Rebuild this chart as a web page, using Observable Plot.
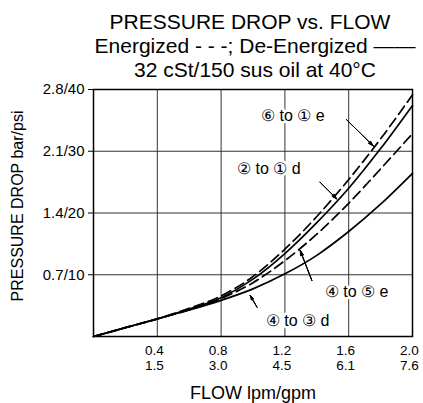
<!DOCTYPE html>
<html><head><meta charset="utf-8">
<script src="https://cdn.jsdelivr.net/npm/d3@7"></script>
<script src="https://cdn.jsdelivr.net/npm/@observablehq/plot@0.6"></script>
<style>body{margin:0;background:#fff}</style>
</head><body><div id="chart"></div>
<script>
const flow = [0, 0.2, 0.4, 0.6, 0.8, 1.0, 1.2, 1.4, 1.6, 1.8, 2.0];
const p61e = [0, 0.10, 0.20, 0.32, 0.46, 0.68, 0.99, 1.36, 1.78, 2.24, 2.74];
const p21d = [0, 0.10, 0.20, 0.31, 0.44, 0.65, 0.94, 1.29, 1.68, 2.13, 2.62];
const p45e = [0, 0.10, 0.20, 0.30, 0.43, 0.61, 0.86, 1.16, 1.51, 1.90, 2.30];
const p43d = [0, 0.10, 0.20, 0.30, 0.41, 0.54, 0.71, 0.92, 1.19, 1.50, 1.85];

const xTicks = [0.4, 0.8, 1.2, 1.6, 2.0];
const xLabelsLpm = ["0.4", "0.8", "1.2", "1.6", "2.0"];
const xLabelsGpm = ["1.5", "3.0", "4.5", "6.1", "7.6"];
const yTicks = [0.7, 1.4, 2.1, 2.8];
const yLabels = ["0.7/10", "1.4/20", "2.1/30", "2.8/40"];

const seriesNames = ["⑥ to ① e", "② to ① d", "④ to ⑤ e", "④ to ③ d"];
const seriesDashed = [true, false, true, false];
const seriesValues = [p61e, p21d, p45e, p43d];

const labelX = [1.25, 1.10, 1.65, 1.28];
const labelY = [2.50, 1.90, 0.51, 0.18];
const arrowX1 = [1.587, 1.42, 1.369, 1.025];
const arrowY1 = [2.457, 1.75, 0.635, 0.332];
const arrowX2 = [1.754, 1.525, 1.296, 0.983];
const arrowY2 = [2.16, 1.56, 0.975, 0.465];

const titleLines = ["PRESSURE DROP vs. FLOW", "Energized - - -; De-Energized ——", "32 cSt/150 sus oil at 40°C"];
const yTitle = "PRESSURE DROP bar/psi";
const xTitle = "FLOW lpm/gpm";

const rows = [];
seriesNames.forEach((name, s) => flow.forEach((f, i) => rows.push({series: name, dashed: seriesDashed[s], flow: f, drop: seriesValues[s][i]})));
const labels = seriesNames.map((name, i) => ({text: name, x: labelX[i], y: labelY[i]}));
const arrows = seriesNames.map((name, i) => ({x1: arrowX1[i], y1: arrowY1[i], x2: arrowX2[i], y2: arrowY2[i]}));

const font = "'Liberation Sans', Arial, Helvetica, sans-serif";
const arrowOpts = {x1: "x1", y1: "y1", x2: "x2", y2: "y2", stroke: "#000", strokeWidth: 1, headLength: 8};

const chart = Plot.plot({
  width: 423,
  height: 403,
  marginLeft: 93,
  marginRight: 11,
  marginTop: 89,
  marginBottom: 67,
  style: {fontFamily: font, background: "#fff", color: "#000"},
  x: {domain: [0, 2.0]},
  y: {domain: [0, 2.8]},
  marks: [
    Plot.gridX(xTicks, {stroke: "#333", strokeOpacity: 1, strokeWidth: 1}),
    Plot.gridY(yTicks, {stroke: "#333", strokeOpacity: 1, strokeWidth: 1}),
    Plot.axisY({ticks: yTicks, tickFormat: (d, i) => yLabels[i], tickSize: 5, tickPadding: 4, fontSize: 15, label: null}),
    Plot.axisX({ticks: xTicks, tickFormat: (d, i) => xLabelsLpm[i], tickSize: 0, tickPadding: 9, fontSize: 13.5, dx: -3, label: null}),
    Plot.axisX({ticks: xTicks, tickFormat: (d, i) => xLabelsGpm[i], tickSize: 0, tickPadding: 24, fontSize: 13.5, dx: -3, label: null}),
    Plot.text(labels, {x: "x", y: "y", text: "text", textAnchor: "middle", fontSize: 16, fill: "#000", stroke: "white", strokeWidth: 5}),
    Plot.line(rows.filter(d => !d.dashed), {x: "flow", y: "drop", z: "series", curve: "monotone-x", stroke: "#000", strokeWidth: 1.7}),
    Plot.line(rows.filter(d => d.dashed), {x: "flow", y: "drop", z: "series", curve: "monotone-x", stroke: "#000", strokeWidth: 1.7, strokeDasharray: "10,5"}),
    Plot.arrow(arrows, {...arrowOpts, headAngle: 34}),
    Plot.arrow(arrows, {...arrowOpts, headAngle: 22}),
    Plot.arrow(arrows, {...arrowOpts, headAngle: 10}),
    Plot.frame({stroke: "#000", strokeWidth: 1.5}),
    Plot.text([titleLines[0]], {frameAnchor: "top", lineAnchor: "middle", textAnchor: "middle", dy: -67, dx: -3, fontSize: 21, fill: "#000"}),
    Plot.text([titleLines[1]], {frameAnchor: "top", lineAnchor: "middle", textAnchor: "middle", dy: -43, dx: 2, fontSize: 21, fill: "#000"}),
    Plot.text([titleLines[2]], {frameAnchor: "top", lineAnchor: "middle", textAnchor: "middle", dy: -19, dx: 2, fontSize: 21, fill: "#000"}),
    Plot.text([yTitle], {frameAnchor: "left", lineAnchor: "middle", textAnchor: "middle", rotate: -90, dx: -76, dy: -7, fontSize: 16, fill: "#000"}),
    Plot.text([xTitle], {frameAnchor: "bottom", lineAnchor: "middle", textAnchor: "middle", dy: 57, fontSize: 18, fill: "#000"})
  ]
});
document.getElementById("chart").appendChild(chart);
</script>
</body></html>
